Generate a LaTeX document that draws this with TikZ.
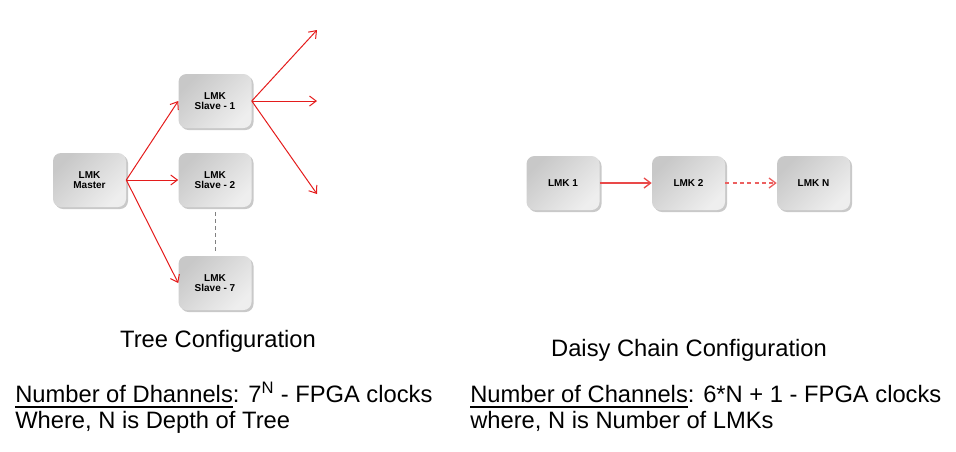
\documentclass[tikz,border=0pt]{standalone}
\usepackage{fontspec}
\setmainfont{Liberation Sans}
\usetikzlibrary{arrows.meta,shadows}

\definecolor{lmkred}{RGB}{228,28,28}
\definecolor{lmkdark}{RGB}{200,200,200}
\definecolor{lmklight}{RGB}{238,238,238}
% thick underline as in the slide
\newcommand{\ulbar}[1]{\setbox0\hbox{#1}\rlap{\rule[-4.5pt]{\wd0}{1.5pt}}#1}

\begin{document}
\begin{tikzpicture}[x=0.75pt,y=-0.75pt,
  lmk/.style={rounded corners=6pt,minimum width=54.75pt,minimum height=40.5pt,
    inner sep=0pt,align=center,left color=lmkdark,right color=lmklight,
    shading angle=45,
    drop shadow={shadow xshift=1.5pt,shadow yshift=-1.5pt,opacity=0.3,fill=black!70},
    font=\fontsize{7.5}{8}\selectfont\bfseries},
  feed/.style={lmkred,line width=0.75pt,-{Straight Barb[length=5pt,width=7.5pt]}},
  caption/.style={font=\fontsize{17.8}{20}\selectfont,anchor=base west,inner sep=0pt}]
\useasboundingbox (0,0) rectangle (956,451);

% tree
\node[lmk] (master) at (89.5,180) {LMK\\Master};
\node[lmk] (slaveA) at (215,101) {LMK\\Slave - 1};
\node[lmk] (slaveB) at (215,180) {LMK\\Slave - 2};
\node[lmk] (slaveG) at (215,283) {LMK\\Slave - 7};
\coordinate (outA) at (317,30);
\coordinate (outB) at (317,101);
\coordinate (outC) at (317,194);

\draw[feed] (master.east) -- (slaveA.west);
\draw[feed] (master.east) -- (slaveB.west);
\draw[feed] (master.east) -- (slaveG.west);
\draw[feed] (slaveA.east) -- (outA);
\draw[feed] (slaveA.east) -- (outB);
\draw[feed] (slaveA.east) -- (outC);
\draw[gray,dash pattern=on 3pt off 2.25pt,shorten >=3.75pt,shorten <=3.75pt] (slaveB) -- (slaveG);

% daisy chain
\node[lmk] (lmkA) at (563,183) {LMK 1};
\node[lmk] (lmkB) at (688.5,183) {LMK 2};
\node[lmk] (lmkN) at (813.5,183) {LMK N};

\draw[feed,lmkred!80,line width=1pt] (lmkA) -- (lmkB);
\draw[feed,lmkred!70,line width=1pt,dash pattern=on 3pt off 2.5pt] (lmkB) -- (lmkN);

% captions
\node[caption,anchor=base] (treecap) at (218,347) {Tree Configuration};
\node[caption,anchor=base] (chaincap) at (689,356) {Daisy Chain Configuration};
\node[caption] (treeline1) at (15,402) {\ulbar{Number of Dhannels}: 7\textsuperscript{N} - FPGA clocks};
\node[caption] (treeline2) at (15,428) {Where, N is Depth of Tree};
\node[caption] (chainline1) at (470,402) {\ulbar{Number of Channels}: 6*N + 1 - FPGA clocks};
\node[caption] (chainline2) at (470,428) {where, N is Number of LMKs};
\end{tikzpicture}
\end{document}
